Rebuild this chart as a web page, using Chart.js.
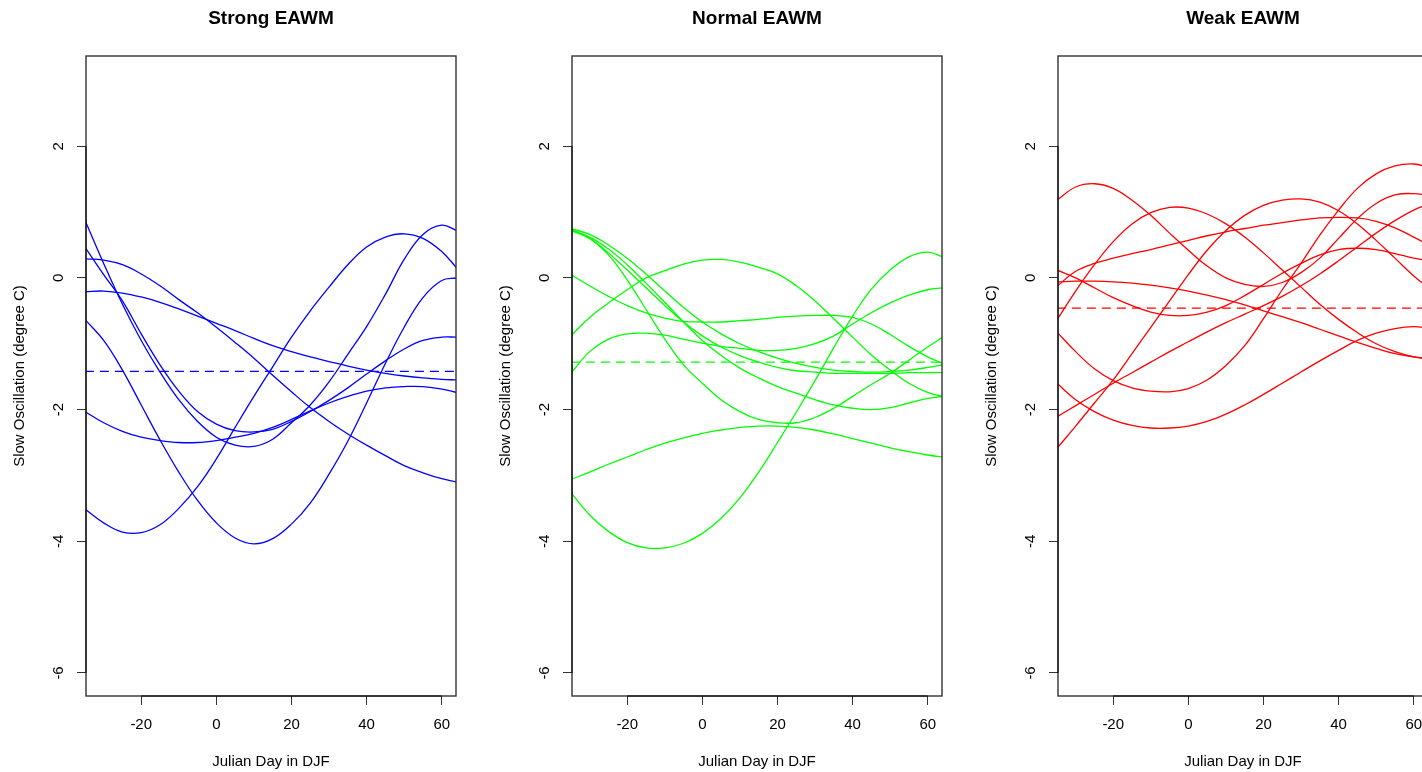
<!DOCTYPE html>
<html>
<head>
<meta charset="utf-8">
<script src="https://cdn.jsdelivr.net/npm/chart.js@4.4.1/dist/chart.umd.min.js"></script>
<style>
html,body{margin:0;padding:0;background:#fff;overflow:hidden;}
#wrap{position:relative;width:1458px;height:772px;}
.panel{position:absolute;top:0;width:486px;height:772px;}
</style>
</head>
<body>
<div id="wrap">
  <div class="panel" style="left:0px"><canvas id="c0" width="486" height="772"></canvas></div>
  <div class="panel" style="left:486px"><canvas id="c1" width="486" height="772"></canvas></div>
  <div class="panel" style="left:972px"><canvas id="c2" width="486" height="772"></canvas></div>
</div>
<script>
// ---------------- data ----------------
const days = [-35,-30,-25,-20,-15,-10,-5,0,5,10,15,20,25,30,35,40,45,50,55,60,64];
const xTicks = [-20,0,20,40,60];
const yTicks = [-6,-4,-2,0,2];
const panelTitles = ["Strong EAWM","Normal EAWM","Weak EAWM"];

// Strong EAWM (blue)
const strong1 = [0.88,0.22,-0.40,-0.95,-1.43,-1.85,-2.18,-2.42,-2.54,-2.56,-2.45,-2.20,-1.93,-1.58,-1.16,-0.74,-0.25,0.28,0.66,0.80,0.72];
const strong2 = [0.47,0.05,-0.35,-0.85,-1.32,-1.72,-2.03,-2.22,-2.32,-2.34,-2.30,-2.18,-2.03,-1.86,-1.67,-1.46,-1.26,-1.08,-0.95,-0.90,-0.90];
const strong3 = [0.29,0.27,0.20,0.06,-0.12,-0.33,-0.53,-0.75,-0.98,-1.22,-1.48,-1.73,-1.97,-2.18,-2.37,-2.54,-2.70,-2.85,-2.96,-3.05,-3.10];
const strong4 = [-0.21,-0.20,-0.23,-0.29,-0.37,-0.47,-0.58,-0.69,-0.80,-0.92,-1.03,-1.12,-1.20,-1.27,-1.34,-1.40,-1.45,-1.49,-1.52,-1.54,-1.55];
const strong5 = [-0.63,-0.95,-1.40,-1.93,-2.46,-2.95,-3.38,-3.72,-3.95,-4.04,-3.96,-3.74,-3.42,-2.98,-2.48,-1.90,-1.30,-0.75,-0.30,-0.04,0.00];
const strong6 = [-2.03,-2.20,-2.33,-2.42,-2.47,-2.50,-2.50,-2.47,-2.42,-2.36,-2.27,-2.15,-2.02,-1.90,-1.80,-1.72,-1.67,-1.65,-1.65,-1.69,-1.74];
const strong7 = [-3.51,-3.72,-3.86,-3.87,-3.75,-3.50,-3.17,-2.75,-2.27,-1.80,-1.35,-0.90,-0.50,-0.14,0.20,0.47,0.62,0.67,0.60,0.40,0.15];
const strongMean = [-1.42];

// Normal EAWM (green)
const normal1 = [0.72,0.60,0.35,-0.03,-0.48,-0.93,-1.32,-1.60,-1.85,-2.03,-2.15,-2.20,-2.20,-2.12,-1.98,-1.80,-1.62,-1.45,-1.25,-1.05,-0.90];
const normal2 = [0.73,0.62,0.44,0.20,-0.08,-0.37,-0.67,-0.95,-1.18,-1.37,-1.52,-1.65,-1.75,-1.85,-1.93,-1.98,-2.00,-1.97,-1.90,-1.83,-1.80];
const normal3 = [0.74,0.60,0.38,0.12,-0.15,-0.42,-0.67,-0.88,-1.05,-1.18,-1.28,-1.36,-1.41,-1.43,-1.45,-1.45,-1.45,-1.45,-1.44,-1.44,-1.44];
const normal4 = [0.75,0.66,0.50,0.30,0.06,-0.20,-0.45,-0.67,-0.85,-1.00,-1.12,-1.22,-1.30,-1.36,-1.40,-1.42,-1.43,-1.42,-1.40,-1.36,-1.32];
const normal5 = [0.05,-0.12,-0.28,-0.42,-0.53,-0.61,-0.66,-0.67,-0.67,-0.65,-0.63,-0.60,-0.58,-0.57,-0.57,-0.60,-0.70,-0.86,-1.04,-1.20,-1.30];
const normal6 = [-0.88,-0.60,-0.38,-0.18,0.00,0.11,0.21,0.27,0.28,0.24,0.16,0.06,-0.12,-0.35,-0.62,-0.90,-1.17,-1.40,-1.60,-1.74,-1.80];
const normal7 = [-1.45,-1.12,-0.93,-0.85,-0.84,-0.87,-0.93,-0.99,-1.04,-1.07,-1.10,-1.10,-1.07,-1.00,-0.88,-0.70,-0.53,-0.38,-0.26,-0.18,-0.15];
const normal8 = [-3.06,-2.95,-2.83,-2.72,-2.61,-2.51,-2.43,-2.36,-2.31,-2.27,-2.25,-2.25,-2.27,-2.31,-2.37,-2.44,-2.51,-2.58,-2.64,-2.69,-2.72];
const normal9 = [-3.26,-3.60,-3.85,-4.02,-4.10,-4.10,-4.03,-3.88,-3.65,-3.34,-2.95,-2.50,-2.04,-1.56,-1.06,-0.58,-0.17,0.12,0.32,0.39,0.32];
const normalMean = [-1.28];

// Weak EAWM (red)
const weak1 = [1.18,1.38,1.43,1.36,1.18,0.95,0.68,0.42,0.18,0.00,-0.10,-0.13,-0.07,0.08,0.30,0.60,0.90,1.13,1.26,1.28,1.25];
const weak2 = [0.12,0.00,-0.15,-0.30,-0.42,-0.52,-0.57,-0.57,-0.52,-0.42,-0.27,-0.10,0.07,0.22,0.35,0.43,0.45,0.43,0.37,0.30,0.26];
const weak3 = [-0.06,-0.05,-0.05,-0.06,-0.08,-0.11,-0.15,-0.20,-0.26,-0.33,-0.41,-0.50,-0.59,-0.68,-0.78,-0.88,-0.98,-1.07,-1.15,-1.20,-1.23];
const weak4 = [-0.13,0.10,0.22,0.30,0.37,0.43,0.50,0.57,0.64,0.70,0.75,0.80,0.84,0.88,0.91,0.92,0.91,0.86,0.76,0.62,0.50];
const weak5 = [-0.64,-0.20,0.20,0.55,0.82,0.99,1.07,1.06,0.97,0.82,0.62,0.38,0.12,-0.14,-0.40,-0.63,-0.83,-1.00,-1.12,-1.20,-1.23];
const weak6 = [-0.82,-1.12,-1.38,-1.56,-1.67,-1.72,-1.73,-1.68,-1.55,-1.33,-1.03,-0.62,-0.18,0.22,0.65,1.03,1.36,1.58,1.70,1.73,1.68];
const weak7 = [-1.60,-1.85,-2.03,-2.16,-2.24,-2.28,-2.28,-2.25,-2.18,-2.07,-1.93,-1.77,-1.60,-1.43,-1.26,-1.10,-0.95,-0.84,-0.77,-0.74,-0.76];
const weak8 = [-2.11,-1.94,-1.77,-1.60,-1.44,-1.28,-1.12,-0.97,-0.82,-0.68,-0.55,-0.42,-0.28,-0.12,0.06,0.26,0.47,0.68,0.87,1.03,1.12];
const weak9 = [-2.59,-2.25,-1.90,-1.55,-1.15,-0.75,-0.35,0.05,0.42,0.72,0.95,1.10,1.18,1.20,1.15,1.02,0.82,0.57,0.30,0.03,-0.15];
const weakMean = [-0.46];

// ---------------- chart ----------------
const FONT = '"Liberation Sans", Arial, Helvetica, sans-serif';
const xRange = [-34.7, 63.8];
const yRange = [-6.35, 3.37];

const framePlugin = {
  id: 'frame',
  afterDraw(chart, args, opts) {
    const {ctx, chartArea: a} = chart;
    const xs = chart.scales.x, ys = chart.scales.y;
    ctx.save();
    ctx.strokeStyle = '#333';
    ctx.lineWidth = 1.4;
    ctx.strokeRect(a.left, a.top, a.right - a.left, a.bottom - a.top);
    ctx.beginPath();
    ctx.moveTo(xs.getPixelForValue(xTicks[0]), a.bottom);
    ctx.lineTo(xs.getPixelForValue(xTicks[xTicks.length-1]), a.bottom);
    ctx.moveTo(a.left, ys.getPixelForValue(yTicks[0]));
    ctx.lineTo(a.left, ys.getPixelForValue(yTicks[yTicks.length-1]));
    ctx.lineWidth = 1;
    ctx.strokeStyle = '#000';
    ctx.stroke();
    ctx.fillStyle = '#000';
    ctx.font = 'bold 19px ' + FONT;
    ctx.textAlign = 'center';
    ctx.textBaseline = 'middle';
    ctx.fillText(opts.text, (a.left + a.right) / 2, 18.5);
    ctx.restore();
  }
};

function makeChart(id, title, color, series, mean) {
  const datasets = series.map(vals => ({
    data: days.map((d, i) => ({x: d, y: vals[i]})),
    borderColor: color,
    borderWidth: 1.3,
    pointRadius: 0,
    tension: 0.4,
    fill: false
  }));
  datasets.push({
    data: [{x: days[0], y: mean[0]}, {x: days[days.length-1], y: mean[0]}],
    borderColor: color,
    borderWidth: 1.3,
    borderDash: [9, 6],
    pointRadius: 0,
    fill: false
  });
  const gridOpts = {display: true, drawOnChartArea: false, drawTicks: true, tickLength: 9, color: '#333', lineWidth: 1};
  return new Chart(document.getElementById(id), {
    type: 'line',
    data: {datasets},
    plugins: [framePlugin],
    options: {
      responsive: false,
      animation: false,
      devicePixelRatio: 1,
      layout: {padding: {left: 0, right: 30, top: 56, bottom: 0}},
      plugins: {
        legend: {display: false},
        tooltip: {enabled: false},
        title: {display: false},
        frame: {text: title}
      },
      scales: {
        x: {
          type: 'linear',
          min: xRange[0], max: xRange[1],
          afterBuildTicks: s => { s.ticks = xTicks.map(v => ({value: v})); },
          afterFit: s => { s.height = 76; },
          grid: gridOpts,
          border: {display: false},
          ticks: {font: {family: FONT, size: 15}, color: '#000', padding: 10.5, maxRotation: 0, autoSkip: false},
          title: {display: true, text: 'Julian Day in DJF', font: {family: FONT, size: 15}, color: '#000', padding: {top: 0, bottom: 1}}
        },
        y: {
          type: 'linear',
          min: yRange[0], max: yRange[1],
          afterBuildTicks: s => { s.ticks = yTicks.map(v => ({value: v})); },
          afterFit: s => { s.width = 86; },
          grid: gridOpts,
          border: {display: false},
          ticks: {font: {family: FONT, size: 15}, color: '#000', padding: 11, minRotation: 90, maxRotation: 90, crossAlign: 'center', autoSkip: false},
          title: {display: true, text: 'Slow Oscillation (degree C)', font: {family: FONT, size: 15}, color: '#000', padding: {top: 10.5, bottom: 0}}
        }
      }
    }
  });
}

makeChart('c0', panelTitles[0], '#0000FF', [strong1,strong2,strong3,strong4,strong5,strong6,strong7], strongMean);
makeChart('c1', panelTitles[1], '#00FF00', [normal1,normal2,normal3,normal4,normal5,normal6,normal7,normal8,normal9], normalMean);
makeChart('c2', panelTitles[2], '#FF0000', [weak1,weak2,weak3,weak4,weak5,weak6,weak7,weak8,weak9], weakMean);
</script>
</body>
</html>
